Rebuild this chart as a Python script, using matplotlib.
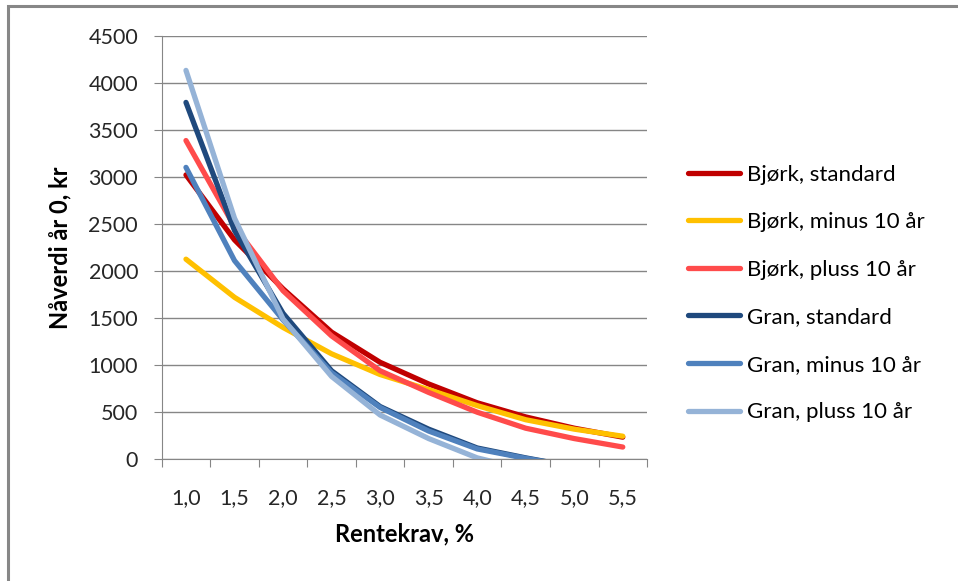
import numpy as np
import matplotlib
matplotlib.use("Agg")
import matplotlib.pyplot as plt
from matplotlib.patches import Rectangle

plt.rcParams['font.family'] = ['Lato', 'DejaVu Sans']

# rentekrav (x-kategorier)
categories = ["1,0", "1,5", "2,0", "2,5", "3,0", "3,5", "4,0", "4,5", "5,0", "5,5"]

# naaverdi aar 0, kr
bjork_standard = [3020, 2330, 1810, 1350, 1030, 800, 600, 450, 330, 235]
bjork_minus = [2125, 1720, 1400, 1120, 900, 740, 570, 420, 320, 245]
bjork_pluss = [3385, 2470, 1790, 1310, 940, 710, 500, 330, 220, 130]
gran_standard = [3790, 2430, 1550, 940, 560, 320, 120, 15, -80, -160]
gran_minus = [3100, 2110, 1480, 920, 550, 300, 110, 10, -80, -150]
gran_pluss = [4130, 2560, 1490, 880, 470, 220, 15, -110, -200, -270]

series = [
    ("Bjørk, standard", bjork_standard, "#C00000"),
    ("Bjørk, minus 10 år", bjork_minus, "#FFC000"),
    ("Bjørk, pluss 10 år", bjork_pluss, "#FF4B4B"),
    ("Gran, standard", gran_standard, "#1F497D"),
    ("Gran, minus 10 år", gran_minus, "#4F81BD"),
    ("Gran, pluss 10 år", gran_pluss, "#95B3D7"),
]

fig = plt.figure(figsize=(9.58, 5.81), dpi=100)
ax = fig.add_axes([0.1688, 0.2095, 0.5066, 0.7293])

x = np.arange(len(categories))
for name, vals, col in series:
    ax.plot(x, vals, color=col, lw=3.8, label=name, solid_capstyle="round")

ax.set_xlim(-0.5, len(categories) - 0.5)
ax.set_ylim(0, 4500)
ax.set_yticks(np.arange(0, 4501, 500))
ax.yaxis.grid(True, color="#868686", lw=1)
ax.set_axisbelow(True)

# ticks between categories, labels at the centres
ax.set_xticks(np.arange(-0.5, len(categories), 1.0))
ax.set_xticklabels([])
ax.set_xticks(x, minor=True)
ax.set_xticklabels(categories, minor=True)
ax.tick_params(axis="x", which="major", direction="out", length=6, color="#868686")
ax.tick_params(axis="x", which="minor", length=0, pad=21, labelsize=15.5, labelcolor="#262626")
ax.tick_params(axis="y", direction="out", length=6, color="#868686", pad=11,
               labelsize=15.5, labelcolor="#262626")

for s in ["top", "right"]:
    ax.spines[s].set_visible(False)
for s in ["left", "bottom"]:
    ax.spines[s].set_color("#868686")

ax.set_xlabel("Rentekrav, %", fontsize=17, fontweight="bold", labelpad=10)
ax.set_ylabel("Nåverdi år 0, kr", fontsize=17, fontweight="bold", labelpad=12)

ax.legend(loc="upper left", bbox_to_anchor=(0.709, 0.732), bbox_transform=fig.transFigure,
          frameon=False, fontsize=16, handlelength=2.35, handletextpad=0.32,
          labelspacing=1.24, borderaxespad=0)

# chart frame
fig.add_artist(Rectangle((8 / 958, -0.1), 1.2, 1.1 - 6 / 581, transform=fig.transFigure,
                         fill=False, edgecolor="#878787", lw=2.2))

fig.savefig("out.png", dpi=100)
